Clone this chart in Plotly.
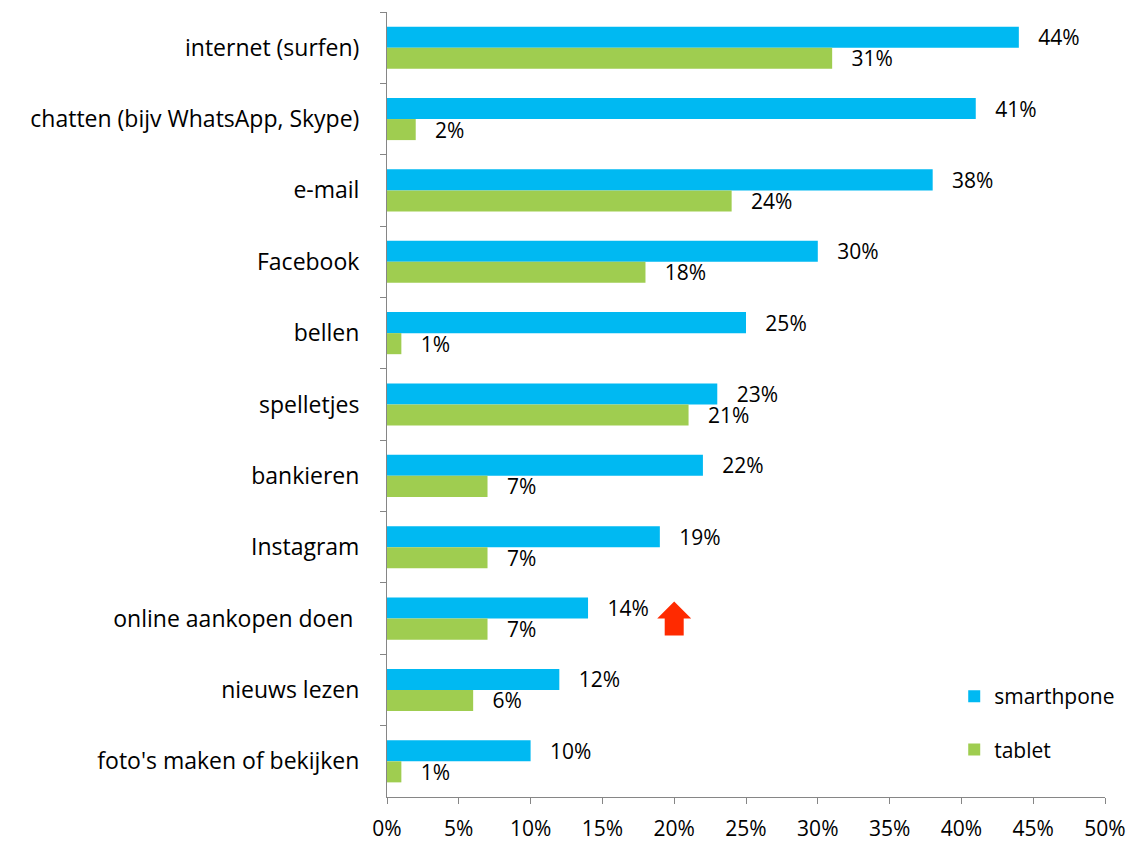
import plotly.graph_objects as go

categories = ["internet (surfen)", "chatten (bijv WhatsApp, Skype)", "e-mail", "Facebook",
              "bellen", "spelletjes", "bankieren", "Instagram", "online aankopen doen ",
              "nieuws lezen", "foto's maken of bekijken"]
smartphone = [44, 41, 38, 30, 25, 23, 22, 19, 14, 12, 10]
tablet = [31, 2, 24, 18, 1, 21, 7, 7, 7, 6, 1]
x_ticks = [0, 5, 10, 15, 20, 25, 30, 35, 40, 45, 50]
x_ticklabels = [f"{v}%" for v in x_ticks]

FONT = "Open Sans"
FS = 21
pad = "\u00a0\u00a0\u00a0"

fig = go.Figure()
fig.add_trace(go.Bar(y=categories, x=smartphone, orientation="h", name="smarthpone",
                     marker=dict(color="#00B9F2", line=dict(width=0)),
                     text=[f"{pad}{v}%" for v in smartphone], textposition="outside",
                     textfont=dict(size=FS, color="black", family=FONT),
                     constraintext="none", cliponaxis=False, legendgroup="a"))
fig.add_trace(go.Bar(y=categories, x=tablet, orientation="h", name="tablet",
                     marker=dict(color="#9FCD50", line=dict(width=0)),
                     text=[f"{pad}{v}%" for v in tablet], textposition="outside",
                     textfont=dict(size=FS, color="black", family=FONT),
                     constraintext="none", cliponaxis=False, legendgroup="b"))

# red arrow near "online aankopen doen"
fig.add_shape(type="path", xref="x", yref="y", xsizemode="pixel", ysizemode="pixel",
              xanchor=20, yanchor="online aankopen doen ",
              path="M 0 17 L 17 0 L 9.5 0 L 9.5 -17 L -9.5 -17 L -9.5 0 L -17 0 Z",
              fillcolor="#FF2A00", line=dict(width=0))

fig.update_layout(
    width=1140, height=845, plot_bgcolor="white", paper_bgcolor="white",
    margin=dict(l=387, r=35, t=12, b=48, autoexpand=False),
    barmode="group", bargap=0.41, bargroupgap=0,
    font=dict(family=FONT, size=FS, color="black"),
    showlegend=True,
    legend=dict(x=0.79, y=0.154, xanchor="left", yanchor="top", tracegroupgap=23,
                traceorder="grouped", font=dict(size=FS, family=FONT),
                bgcolor="rgba(0,0,0,0)", itemwidth=30),
)
fig.update_xaxes(range=[0, 50], tickvals=x_ticks, ticktext=x_ticklabels,
                 showgrid=False, zeroline=False, showline=True, linecolor="#868686",
                 ticks="outside", ticklen=6, tickcolor="#868686", automargin=False,
                 tickfont=dict(size=FS, family=FONT), ticklabelstandoff=7)
fig.update_yaxes(autorange="reversed", showgrid=False, showline=True, linecolor="#868686",
                 ticks="outside", ticklen=6, tickcolor="#868686", tickson="boundaries",
                 automargin=False,
                 tickfont=dict(size=23, family=FONT), ticklabelstandoff=22)

fig.write_html("out.html")
